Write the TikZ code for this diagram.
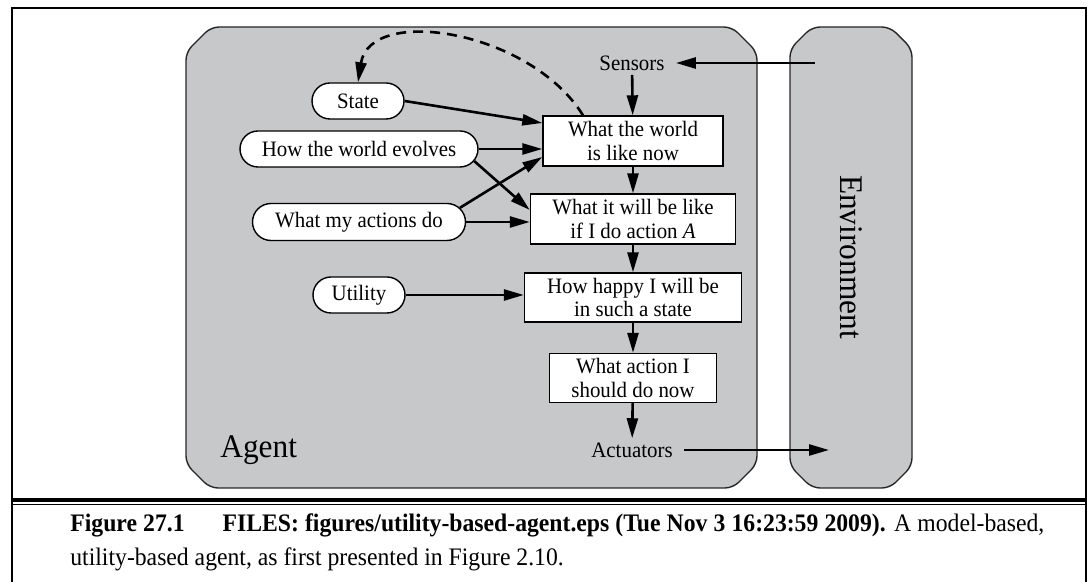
\documentclass[tikz,border=0pt]{standalone}
\usepackage{fontspec}
\setmainfont{Liberation Serif}
\newfontfamily\capfont[FakeStretch=0.94]{Liberation Serif}
\newfontfamily\dgfont[FakeStretch=0.95]{Liberation Serif}
\usetikzlibrary{arrows.meta,shapes.misc,calc}
\definecolor{agentgray}{RGB}{199,200,202}
\newcommand\diagfont{\dgfont\fontsize{11}{11.8}\selectfont}
\newcommand\bigdiagfont{\dgfont\fontsize{16.5}{18}\selectfont}
\begin{document}
\begin{tikzpicture}[x=0.5pt,y=-0.5pt,
  arr/.style={line width=1.3pt,-{Triangle[length=10pt,width=5.5pt]}},
  dbox/.style={draw,line width=0.7pt,fill=white,align=center,inner sep=1pt,font=\diagfont},
  pill/.style={rounded rectangle,draw,line width=0.7pt,fill=white,inner sep=1pt,font=\diagfont},
  lbl/.style={inner xsep=5.5pt,inner ysep=2pt,font=\diagfont},
  panel/.style={fill=agentgray,draw=black!85,line width=0.7pt,rounded corners=4pt}]
\useasboundingbox (0,0) rectangle (1089,582);
% frame
\draw[line width=1.4pt] (12,582) -- (12,8) -- (1086,8) -- (1086,582);
\draw[line width=1.6pt] (12,500) -- (1086,500);
\draw[line width=0.8pt] (12,504.5) -- (1086,504.5);
% panels
\draw[panel] (186,52) -- (211,27) -- (732,27) -- (757,52) -- (757,464) -- (733,488) -- (210,488) -- (186,464) -- cycle;
\draw[panel] (790,49) -- (812,27) -- (890,27) -- (912,49) -- (912,466) -- (890,488) -- (812,488) -- (790,466) -- cycle;
\node[anchor=base west,inner sep=0,font=\bigdiagfont] (agentlbl) at (220,458) {Agent};
\node[rotate=-90,inner sep=0,font=\bigdiagfont] (envlbl) at (851,257) {Environment};
% nodes
\node[lbl] (sensors) at (632,63) {Sensors};
\node[lbl] (actuators) at (632,450) {Actuators};
\node[dbox,minimum width=90pt,minimum height=25pt] (world) at (633,141) {What the world\\is like now};
\node[dbox,minimum width=102.5pt,minimum height=25pt] (predict) at (633,219) {What it will be like\\if I do action \textit{A}};
\node[dbox,minimum width=108.5pt,minimum height=24.5pt] (happy) at (633,297.5) {How happy I will be\\in such a state};
\node[dbox,minimum width=83.5pt,minimum height=24.5pt] (decide) at (633,378) {What action I\\should do now};
\node[pill,minimum width=48pt,minimum height=18pt] (state) at (358,101) {State};
\node[pill,minimum width=121pt,minimum height=18pt] (evolves) at (359,149) {How the world evolves};
\node[pill,minimum width=108.5pt,minimum height=18.5pt] (myact) at (359,222) {What my actions do};
\node[pill,minimum width=48pt,minimum height=18pt] (utility) at (359,295) {Utility};
\coordinate (envin) at (815,63);
\coordinate (envout) at (829,450);
% connectors
\draw[arr] (envin) -- (sensors);
\draw[arr] (sensors) -- (world);
\draw[arr] (world) -- (predict);
\draw[arr] (predict) -- (happy);
\draw[arr] (happy) -- (decide);
\draw[arr] (decide) -- (actuators);
\draw[arr] (actuators) -- (envout);
\draw[arr] (state.east) -- ([yshift=9pt]world.west);
\draw[arr] (evolves.east) -- (evolves.east -| world.west);
\draw[arr] (evolves.-6) -- ([yshift=4.5pt]predict.west);
\draw[arr] (myact.8) -- ([yshift=-8pt]world.west);
\draw[arr] (myact.east) -- (myact.east -| predict.west);
\draw[arr] (utility.east) -- (utility.east -| happy.west);
\draw[arr,dash pattern=on 5pt off 3.5pt] ([xshift=-25pt]world.north) .. controls (530,30) and (370,5) .. (state.north);
% caption
\node[anchor=base west,inner sep=0] (cap1) at (70,532) {\capfont\fontsize{12.6}{15}\selectfont\makebox[487pt][s]{\textbf{Figure 27.1}\hspace{19pt}\textbf{FILES: figures/utility-based-agent.eps (Tue Nov 3 16:23:59 2009).} A model-based,}};
\node[anchor=base west,inner sep=0] (cap2) at (70,566) {\capfont\fontsize{12.6}{15}\selectfont utility-based agent, as first presented in Figure 2.10.};
\end{tikzpicture}
\end{document}
